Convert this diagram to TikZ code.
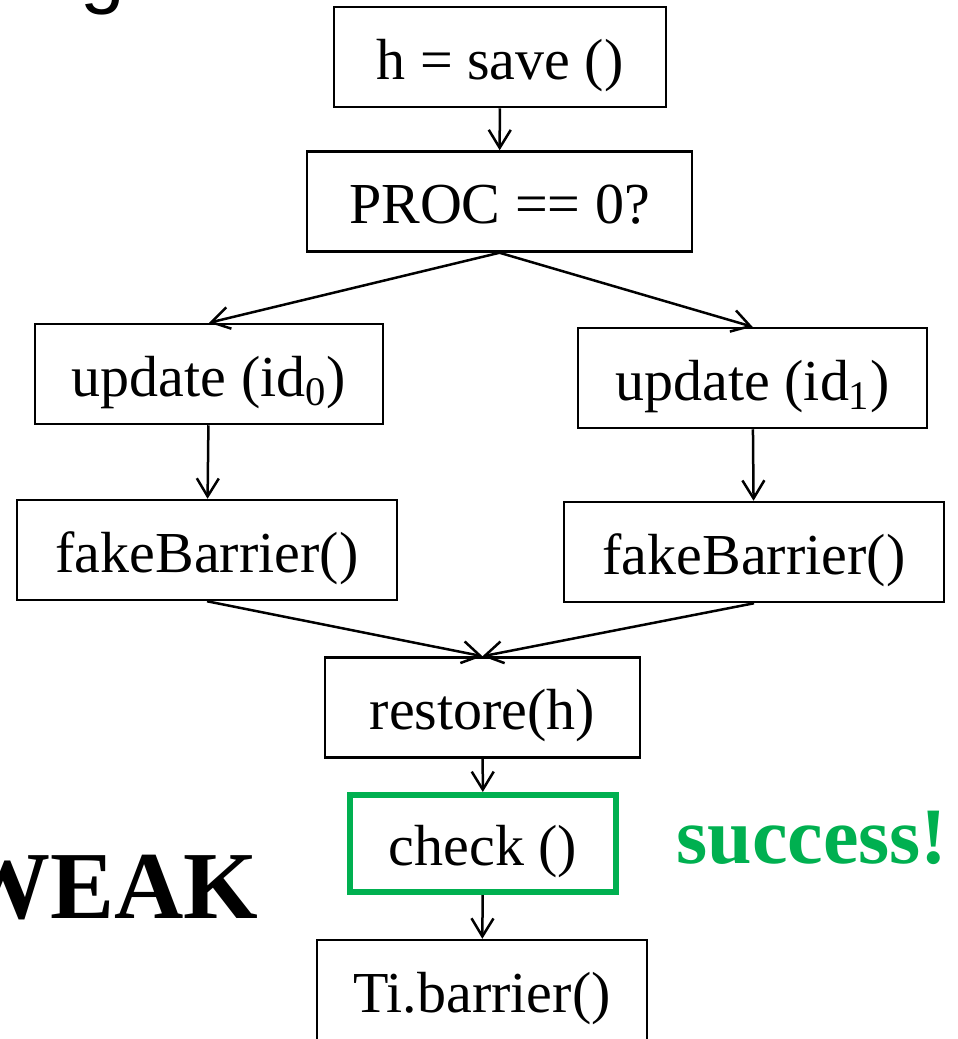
\documentclass[tikz,border=0pt]{standalone}
\usepackage{fontspec}
\setmainfont{Liberation Serif}
\newfontfamily\titlefont{Liberation Sans}
\usetikzlibrary{arrows.meta}
\definecolor{okgreen}{HTML}{00B050}

\tikzset{
    blk/.style={draw, line width=1.25pt, minimum height=50pt, inner sep=0pt,
        text height=27.5pt, text depth=5.5pt,
        font=\fontsize{29}{34}\selectfont},
    flow/.style={line width=1.25pt, -{Straight Barb[length=9pt,width=11pt]}},
}

\begin{document}
\begin{tikzpicture}[x=0.5pt,y=-0.5pt]
        \useasboundingbox (0,0) rectangle (958,1039);

        \node (title) [anchor=base west, inner sep=0pt, font=\titlefont\fontsize{40}{48}\selectfont] at (80,-2) {g};

        \node (save) [blk, minimum width=166pt] at (500,57) {h = save ()};
        \node (proc) [blk, minimum width=192.5pt] at (499.5,201.5) {PROC == 0?};

        \node (upd0) [blk, minimum width=174pt] at (209,374) {update (id\textsubscript{0})};
        \node (upd1) [blk, minimum width=174.5pt] at (752.5,378) {update (id\textsubscript{1})};
        \node (fake0) [blk, minimum width=190pt] at (207,550) {fakeBarrier()};
        \node (fake1) [blk, minimum width=190pt] at (754,552) {fakeBarrier()};

        \node (rest) [blk, minimum width=157.5pt] at (482.5,707.5) {restore(h)};
        \node (check) [blk, draw=okgreen, line width=3pt, minimum width=133pt, minimum height=48.5pt] at (483,843.5) {check ()};
        \node (ti) [blk, minimum width=165pt] at (482,990) {Ti.barrier()};

        \node (weak) [anchor=base east, inner sep=0pt, font=\bfseries\fontsize{48}{56}\selectfont] at (259,918) {WEAK};
        \node (ok) [anchor=base west, inner sep=0pt, text=okgreen, font=\bfseries\fontsize{40}{48}\selectfont] at (676,863) {success!};

        \draw [flow] (save) -- (proc);
        \draw [flow] (proc.south) -- (upd0.north);
        \draw [flow] (proc.south) -- (upd1.north);
        \draw [flow] (upd0) -- (fake0);
        \draw [flow] (upd1) -- (fake1);
        \draw [flow] (fake0.south) -- (rest.north);
        \draw [flow] (fake1.south) -- (rest.north);
        \draw [flow] (rest) -- (check);
        \draw [flow] (check) -- (ti);
    \end{tikzpicture}
\end{document}
